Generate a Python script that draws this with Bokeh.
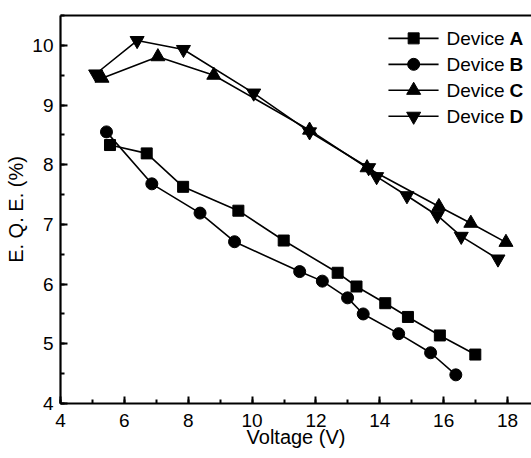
from bokeh.plotting import figure
from bokeh.models import SingleIntervalTicker, FixedTicker, LinearAxis, Range1d
from bokeh.core.properties import value
from bokeh.embed import file_html
from bokeh.resources import INLINE

# Data
a_v = [5.55, 6.7, 7.84, 9.57, 10.99, 12.68, 13.27, 14.17, 14.88, 15.88, 16.99]
a_eqe = [8.33, 8.19, 7.63, 7.23, 6.73, 6.19, 5.96, 5.68, 5.45, 5.14, 4.82]
b_v = [5.44, 6.86, 8.37, 9.45, 11.49, 12.2, 12.99, 13.48, 14.59, 15.59, 16.38]
b_eqe = [8.55, 7.68, 7.19, 6.71, 6.21, 6.05, 5.77, 5.5, 5.17, 4.85, 4.48]
c_v = [5.3, 7.05, 8.8, 11.8, 13.6, 15.85, 16.85, 17.95]
c_eqe = [9.45, 9.81, 9.5, 8.58, 7.95, 7.3, 7.02, 6.7]
d_v = [5.1, 6.4, 7.85, 10.05, 11.8, 13.65, 13.9, 14.85, 15.8, 16.55, 17.7]
d_eqe = [9.52, 10.08, 9.93, 9.2, 8.55, 7.95, 7.8, 7.48, 7.15, 6.8, 6.42]

series_names = ["A", "B", "C", "D"]
series_markers = ["square", "circle", "triangle", "inverted_triangle"]
marker_sizes = [11, 12, 14, 14]

x_ticks_interval = 2
y_ticks_interval = 1

FONT = "Liberation Sans"

p = figure(width=531, height=458, output_backend="svg", toolbar_location=None,
           x_range=Range1d(4, 18.75), y_range=Range1d(4, 10.5),
           min_border_left=60, min_border_right=0, min_border_top=15,
           min_border_bottom=55, x_axis_label="Voltage (V)", y_axis_label="E. Q. E. (%)")
p.background_fill_color = "white"
p.border_fill_color = "white"
p.outline_line_color = None
p.grid.visible = False

p.xaxis.ticker = SingleIntervalTicker(interval=x_ticks_interval, num_minor_ticks=2)
p.yaxis.ticker = SingleIntervalTicker(interval=y_ticks_interval, num_minor_ticks=2)

for ax in (p.xaxis[0], p.yaxis[0]):
    ax.axis_line_width = 2.2
    ax.axis_line_color = "black"
    ax.major_tick_in = 7
    ax.major_tick_out = 0
    ax.minor_tick_in = 4
    ax.minor_tick_out = 0
    ax.major_tick_line_width = 2
    ax.minor_tick_line_width = 2
    ax.major_tick_line_color = "black"
    ax.minor_tick_line_color = "black"
    ax.major_label_text_font = FONT
    ax.major_label_text_font_size = "19px"
    ax.major_label_text_color = "black"
    ax.axis_label_text_font = FONT
    ax.axis_label_text_font_size = "20px"
    ax.axis_label_text_font_style = "normal"
    ax.axis_label_text_color = "black"

p.xaxis.major_label_standoff = 10
p.xaxis.axis_label_standoff = -4
p.yaxis.major_label_standoff = 7
p.yaxis.axis_label_standoff = 2

top = LinearAxis(axis_line_width=2.2, axis_line_color="black",
                 major_tick_in=0, major_tick_out=0, minor_tick_in=0, minor_tick_out=0,
                 major_label_standoff=0, ticker=FixedTicker(ticks=[]))
p.add_layout(top, "above")

xs = [a_v, b_v, c_v, d_v]
ys = [a_eqe, b_eqe, c_eqe, d_eqe]
for x, y, m, s in zip(xs, ys, series_markers, marker_sizes):
    p.line(x, y, line_color="black", line_width=1.6)
    p.scatter(x, y, marker=m, size=s, fill_color="black", line_color="black")

# Legend (drawn manually to allow bold letters)
leg_x0, leg_x1, leg_xm, leg_xt = 14.27, 15.84, 15.06, 16.09
leg_ys = [10.117, 9.682, 9.247, 8.812]
for name, m, s, ly in zip(series_names, series_markers, marker_sizes, leg_ys):
    p.line([leg_x0, leg_x1], [ly, ly], line_color="black", line_width=1.6)
    p.scatter([leg_xm], [ly], marker=m, size=s, fill_color="black", line_color="black")
    p.text([leg_xt], [ly], text=["Device"], text_font=value(FONT), text_font_size="19px",
           text_baseline="middle", text_align="left", text_color="black")
    p.text([leg_xt], [ly], text=[name], x_offset=63, text_font=value(FONT), text_font_size="19px",
           text_font_style="bold", text_baseline="middle", text_align="left", text_color="black")

open("out.html", "w").write(file_html(p, INLINE))
